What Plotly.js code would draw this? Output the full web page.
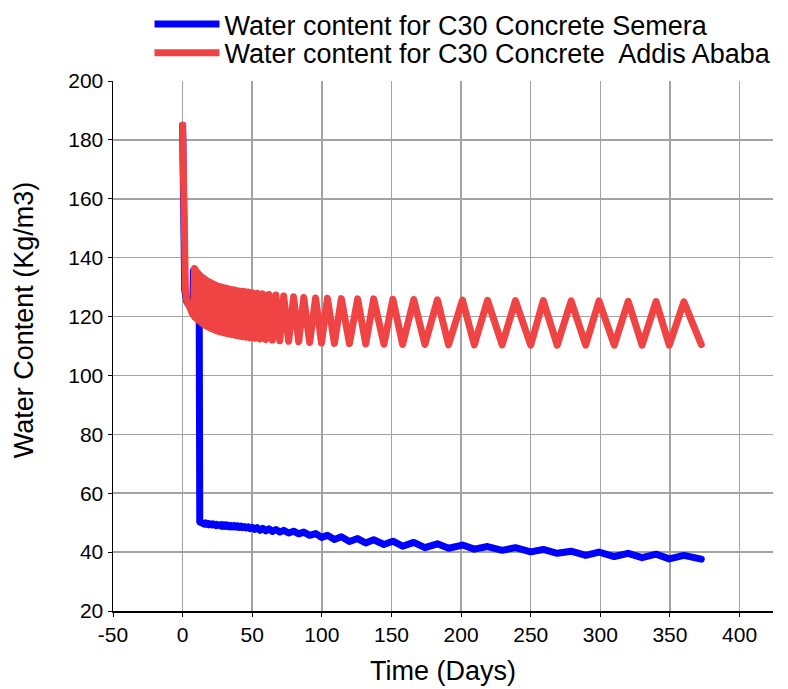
<!DOCTYPE html>
<html>
<head>
<meta charset="utf-8">
<script src="https://cdn.plot.ly/plotly-3.0.1.min.js"></script>
<style>
html,body{margin:0;padding:0;background:#fff;}
#chart{width:788px;height:689px;}
#chart .scatterlayer path.js-line{stroke-linejoin:round;stroke-linecap:round;}
</style>
</head>
<body>
<div id="chart"></div>
<script>
// Time (days) and water content (kg/m3) for C30 concrete, Semera
const semeraDays = [0, 0.15, 0.4, 0.8, 1.5, 3, 5, 7.3, 7.7, 9, 10.5, 11.6, 11.9, 12.3,
  13.1, 13.65, 14.2, 14.75, 15.3, 15.9, 16.5, 17.1, 17.7, 18.35, 19, 19.65, 20.3, 21, 21.7, 22.4,
  23.1, 23.85, 24.6, 25.4, 26.2, 27, 27.8, 28.65, 29.5, 30.4, 31.3, 32.25, 33.2, 34.2, 35.2, 36.25,
  37.3, 38.4, 39.5, 40.65, 41.8, 43.05, 44.3, 45.65, 47, 48.5, 50, 51.75, 53.5, 55.5, 57.5, 59.75,
  62, 64.5, 67, 69.8, 72.6, 76.15, 79.7, 83.35, 87, 91.25, 95.5, 99.75, 104, 109, 114, 119.8,
  125.7, 131.5, 137.2, 144.6, 151, 158, 166, 174, 183, 191, 201, 209.5, 219, 229.5, 239, 250,
  259, 269, 279, 289.5, 299, 310, 320, 330, 340, 349.5, 360, 372.5];
const semeraWater = [185, 160, 142, 134, 129, 125, 123, 122, 135.5, 131, 128, 127, 126, 50.2,
  50.1, 49.6, 50.0, 49.5, 49.9, 49.5, 49.9, 49.4, 49.8, 49.3, 49.7, 49.2, 49.6, 49.2, 49.6, 49.1,
  49.5, 49.0, 49.4, 49.0, 49.4, 48.9, 49.3, 48.8, 49.2, 48.8, 49.2, 48.7, 49.1, 48.6, 49.0, 48.6,
  49.0, 48.5, 48.9, 48.4, 48.8, 48.3, 48.7, 48.2, 48.6, 48.0, 48.4, 47.7, 48.3, 47.4, 48.1, 47.2,
  47.9, 47.0, 47.7, 46.8, 47.4, 46.5, 47.1, 46.2, 46.8, 45.7, 46.3, 45.0, 45.7, 44.3, 45.2, 43.6,
  44.6, 43.1, 44.2, 42.6, 43.7, 42.0, 43.3, 41.5, 42.8, 41.3, 42.4, 41.0, 41.9, 40.6, 41.5, 40.1,
  40.9, 39.6, 40.3, 38.9, 40.0, 38.5, 39.6, 38.1, 39.3, 37.7, 38.9, 37.6];

// Time (days) and water content (kg/m3) for C30 concrete, Addis Ababa
const addisDays = [0, 0.3, 0.7, 1.2, 2, 3, 5, 7, 8,
  8.5, 8.85, 9.2, 9.6, 10, 10.5, 11, 11.5, 12, 12.55, 13.1, 13.65, 14.2, 14.75, 15.3, 15.9,
  16.5, 17.1, 17.7, 18.35, 19, 19.65, 20.3, 21, 21.7, 22.4, 23.1, 23.85, 24.6, 25.4, 26.2, 27,
  27.8, 28.65, 29.5, 30.4, 31.3, 32.25, 33.2, 34.2, 35.2, 36.25, 37.3, 38.4, 39.5, 40.65, 41.8, 43.05,
  44.3, 45.65, 47, 48.5, 50, 51.75, 53.5, 55.5, 57.5, 59.75, 62, 64.5, 67, 69.8, 72.6, 76.15,
  79.7, 83.35, 87, 91.25, 95.5, 99.75, 104, 109, 114, 119.8, 125.7, 131.5, 137.2, 144.6, 151, 158,
  166, 174, 183, 191, 201, 209.5, 219, 229.5, 239, 250, 259, 269, 279, 289.5, 299, 310,
  320, 330, 340, 349.5, 360, 372.5];
const addisWater = [185, 168, 150, 138, 129, 125.5, 122.5, 121, 120.3,
  136.3, 119.8, 135.8, 119.5, 135.2, 119.1, 134.7, 118.7, 134.2, 118.3, 133.7, 117.9, 133.3, 117.5, 132.9, 117.1,
  132.5, 116.8, 132.1, 116.5, 131.8, 116.2, 131.4, 115.9, 131.1, 115.6, 130.8, 115.3, 130.5, 115.0, 130.2, 114.8,
  130.0, 114.6, 129.8, 114.4, 129.6, 114.2, 129.4, 114.0, 129.2, 113.8, 129.0, 113.6, 128.8, 113.4, 128.6, 113.2,
  128.5, 113.0, 128.3, 112.8, 128.1, 112.6, 127.9, 112.4, 127.7, 112.2, 127.5, 112.0, 127.3, 111.8, 127.0, 111.6,
  126.7, 111.4, 126.5, 111.2, 126.3, 111.0, 126.2, 110.9, 126.1, 110.8, 126.0, 110.7, 126.0, 110.6, 125.9, 110.5,
  125.8, 110.5, 125.7, 110.4, 125.6, 110.4, 125.5, 110.4, 125.4, 110.3, 125.4, 110.3, 125.3, 110.3, 125.3, 110.3,
  125.2, 110.3, 125.1, 110.3, 125.0, 110.5];

const seriesNames = ['Water content for C30 Concrete Semera', 'Water content for C30 Concrete\u00a0 Addis Ababa'];
const xTickVals = [-50, 0, 50, 100, 150, 200, 250, 300, 350, 400];
const xTickText = ['-50', '0', '50', '100', '150', '200', '250', '300', '350', '400'];
const yTickVals = [20, 40, 60, 80, 100, 120, 140, 160, 180, 200];

const font = 'Liberation Sans, Arial, sans-serif';
const traces = [
  {x: semeraDays, y: semeraWater, type: 'scatter', mode: 'lines', name: seriesNames[0],
   legend: 'legend', line: {color: '#0000ff', width: 7}},
  {x: addisDays, y: addisWater, type: 'scatter', mode: 'lines', name: seriesNames[1],
   legend: 'legend2', line: {color: '#f04343', width: 7}}
];
const legendBase = {x: 0.0553, xref: 'paper', yref: 'container', xanchor: 'left', yanchor: 'top',
  bgcolor: 'rgba(0,0,0,0)', font: {family: font, size: 27, color: '#000'}, itemwidth: 65};
const layout = {
  width: 788, height: 689,
  margin: {l: 113, r: 15, t: 81, b: 78},
  paper_bgcolor: '#ffffff', plot_bgcolor: '#ffffff',
  font: {family: font, color: '#000', size: 21},
  showlegend: true,
  legend: Object.assign({}, legendBase, {y: 1.0}),
  legend2: Object.assign({}, legendBase, {y: 0.9585}),
  xaxis: {range: [-50, 424], tickvals: xTickVals, ticktext: xTickText, showgrid: true, gridcolor: '#a3a3a3', gridwidth: 1.5,
    zeroline: false, showline: true, linecolor: '#000', linewidth: 1.5, ticks: 'outside', ticklen: 4,
    tickcolor: '#000', tickfont: {size: 21, family: font},
    title: {text: 'Time (Days)', font: {size: 27, family: font}, standoff: 16}},
  yaxis: {range: [20, 200], tickvals: yTickVals, showgrid: true, gridcolor: '#a3a3a3', gridwidth: 1.5,
    zeroline: false, showline: true, linecolor: '#000', linewidth: 1.5, ticks: 'outside', ticklen: 4,
    tickcolor: '#000', tickfont: {size: 21, family: font},
    title: {text: 'Water Content (Kg/m3)', font: {size: 27, family: font}, standoff: 27}}
};
Plotly.newPlot('chart', traces, layout, {displayModeBar: false, staticPlot: true}).then(function (gd) {
  // the reference places the y-axis title slightly above the plot's vertical centre
  const t = gd.querySelector('.g-ytitle text');
  if (t) t.setAttribute('transform', 'translate(0,-26) ' + (t.getAttribute('transform') || ''));
});
</script>
</body>
</html>
